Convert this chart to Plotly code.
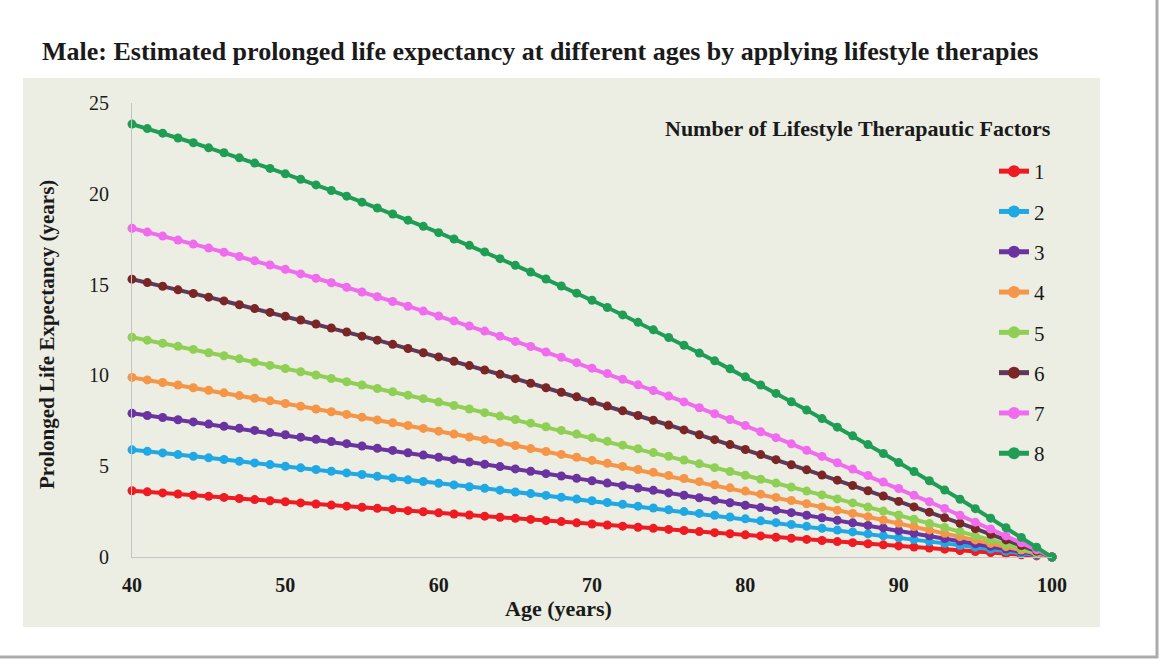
import plotly.graph_objects as go

ages = list(range(40, 101))

factor_names = ["1", "2", "3", "4", "5", "6", "7", "8"]

factor_1 = [3.65, 3.59, 3.53, 3.47, 3.40, 3.34, 3.28, 3.22, 3.16, 3.10,
            3.04, 2.98, 2.92, 2.86, 2.80, 2.74, 2.68, 2.61, 2.55, 2.49,
            2.43, 2.37, 2.31, 2.25, 2.19, 2.13, 2.07, 2.01, 1.95, 1.88,
            1.82, 1.76, 1.70, 1.64, 1.58, 1.52, 1.46, 1.40, 1.34, 1.28,
            1.22, 1.16, 1.09, 1.03, 0.97, 0.91, 0.85, 0.79, 0.73, 0.67,
            0.61, 0.55, 0.49, 0.43, 0.36, 0.30, 0.24, 0.18, 0.12, 0.06, 0.0]

factor_2 = [5.90, 5.82, 5.73, 5.64, 5.55, 5.46, 5.37, 5.27, 5.18, 5.09,
            5.00, 4.91, 4.82, 4.72, 4.63, 4.54, 4.44, 4.35, 4.25, 4.16,
            4.06, 3.97, 3.87, 3.78, 3.68, 3.58, 3.49, 3.39, 3.29, 3.19,
            3.10, 3.00, 2.90, 2.80, 2.70, 2.60, 2.50, 2.40, 2.30, 2.20,
            2.10, 1.99, 1.89, 1.79, 1.69, 1.58, 1.48, 1.38, 1.27, 1.17,
            1.06, 0.96, 0.85, 0.75, 0.64, 0.54, 0.43, 0.32, 0.22, 0.11, 0.0]

factor_3 = [7.91, 7.79, 7.68, 7.56, 7.44, 7.32, 7.20, 7.09, 6.97, 6.85,
            6.73, 6.60, 6.48, 6.36, 6.24, 6.11, 5.99, 5.87, 5.74, 5.61,
            5.49, 5.36, 5.23, 5.11, 4.98, 4.85, 4.72, 4.59, 4.46, 4.33,
            4.20, 4.07, 3.93, 3.80, 3.67, 3.53, 3.40, 3.26, 3.13, 2.99,
            2.85, 2.72, 2.58, 2.44, 2.30, 2.16, 2.02, 1.88, 1.74, 1.60,
            1.45, 1.31, 1.17, 1.02, 0.88, 0.73, 0.59, 0.44, 0.30, 0.15, 0.0]

factor_4 = [9.89, 9.75, 9.61, 9.47, 9.32, 9.18, 9.04, 8.89, 8.74, 8.60,
            8.45, 8.30, 8.15, 8.00, 7.85, 7.70, 7.55, 7.39, 7.24, 7.08,
            6.93, 6.77, 6.61, 6.46, 6.30, 6.14, 5.97, 5.81, 5.65, 5.49,
            5.32, 5.16, 4.99, 4.82, 4.66, 4.49, 4.32, 4.15, 3.98, 3.81,
            3.63, 3.46, 3.28, 3.11, 2.93, 2.76, 2.58, 2.40, 2.22, 2.04,
            1.86, 1.68, 1.49, 1.31, 1.12, 0.94, 0.75, 0.57, 0.38, 0.19, 0.0]

factor_5 = [12.10, 11.94, 11.77, 11.60, 11.43, 11.25, 11.08, 10.91, 10.73, 10.55,
            10.38, 10.20, 10.02, 9.83, 9.65, 9.47, 9.28, 9.10, 8.91, 8.72,
            8.53, 8.34, 8.15, 7.95, 7.76, 7.57, 7.37, 7.17, 6.97, 6.77,
            6.57, 6.37, 6.16, 5.96, 5.75, 5.55, 5.34, 5.13, 4.92, 4.71,
            4.50, 4.28, 4.07, 3.85, 3.63, 3.42, 3.20, 2.98, 2.75, 2.53,
            2.31, 2.08, 1.85, 1.63, 1.40, 1.17, 0.94, 0.70, 0.47, 0.24, 0.0]

factor_6 = [15.30, 15.11, 14.91, 14.71, 14.51, 14.31, 14.10, 13.89, 13.68, 13.47,
            13.26, 13.05, 12.83, 12.61, 12.39, 12.16, 11.94, 11.71, 11.48, 11.25,
            11.02, 10.78, 10.54, 10.30, 10.06, 9.82, 9.57, 9.32, 9.07, 8.82,
            8.57, 8.31, 8.05, 7.79, 7.53, 7.27, 7.00, 6.73, 6.46, 6.19,
            5.92, 5.64, 5.36, 5.08, 4.80, 4.51, 4.23, 3.94, 3.65, 3.36,
            3.06, 2.76, 2.47, 2.16, 1.86, 1.56, 1.25, 0.94, 0.63, 0.32, 0.0]

factor_7 = [18.10, 17.89, 17.67, 17.45, 17.23, 17.01, 16.78, 16.55, 16.31, 16.08,
            15.84, 15.59, 15.35, 15.10, 14.85, 14.59, 14.33, 14.07, 13.81, 13.54,
            13.27, 13.00, 12.72, 12.44, 12.16, 11.87, 11.59, 11.29, 11.00, 10.70,
            10.40, 10.10, 9.79, 9.48, 9.17, 8.86, 8.54, 8.22, 7.89, 7.57,
            7.24, 6.90, 6.57, 6.23, 5.88, 5.54, 5.19, 4.84, 4.49, 4.13,
            3.77, 3.40, 3.04, 2.67, 2.30, 1.92, 1.54, 1.16, 0.78, 0.39, 0.0]

factor_8 = [23.84, 23.59, 23.34, 23.07, 22.81, 22.53, 22.26, 21.98, 21.69, 21.40,
            21.10, 20.80, 20.49, 20.18, 19.87, 19.54, 19.22, 18.89, 18.55, 18.21,
            17.86, 17.51, 17.16, 16.80, 16.43, 16.06, 15.69, 15.31, 14.92, 14.53,
            14.14, 13.74, 13.33, 12.92, 12.51, 12.09, 11.66, 11.23, 10.80, 10.36,
            9.92, 9.47, 9.01, 8.55, 8.09, 7.62, 7.15, 6.67, 6.19, 5.70,
            5.20, 4.71, 4.20, 3.69, 3.18, 2.66, 2.14, 1.61, 1.08, 0.54, 0.0]

series_values = [factor_1, factor_2, factor_3, factor_4,
                 factor_5, factor_6, factor_7, factor_8]

x_ticks = [40, 50, 60, 70, 80, 90, 100]
y_ticks = [0, 5, 10, 15, 20, 25]

line_colors = ["#ee1c22", "#1fa8e4", "#6a33a0", "#f49548",
               "#90cf55", "#5f3a58", "#f06cee", "#1f9d55"]
marker_colors = ["#ee1c22", "#1fa8e4", "#6a33a0", "#f49548",
                 "#90cf55", "#7a2626", "#f06cee", "#1f9d55"]

SERIF = "Liberation Serif, Times New Roman, serif"
TXT = "#1a1a1a"

# pixel geometry of the plot area
L, R, T, B = 132, 1052, 103, 557
W, H = R - L, B - T


def px(x):
    return (x - L) / W


def py(y):
    return (B - y) / H


fig = go.Figure()
for name, vals, lc, mc in zip(factor_names, series_values, line_colors, marker_colors):
    fig.add_trace(go.Scatter(
        x=ages, y=vals, name=name, mode="lines+markers",
        line=dict(color=lc, width=4),
        marker=dict(color=mc, size=9),
        cliponaxis=False, legendgroup=name,
    ))

shapes = [
    dict(type="rect", xref="paper", yref="paper", layer="below",
         x0=px(23), x1=px(1100), y0=py(627), y1=py(78),
         fillcolor="#edeee3", line=dict(width=0)),
    dict(type="line", xref="paper", yref="paper",
         x0=px(1157), x1=px(1157), y0=py(-5), y1=py(658),
         line=dict(color="#ababab", width=3)),
    dict(type="line", xref="paper", yref="paper",
         x0=px(-5), x1=px(1158), y0=py(657), y1=py(657),
         line=dict(color="#ababab", width=3)),
]

annotations = [
    dict(text="<b>Male: Estimated prolonged life expectancy at different ages by applying lifestyle therapies</b>",
         xref="paper", yref="paper", x=px(40), y=py(52), xanchor="left", yanchor="middle",
         showarrow=False, font=dict(family=SERIF, size=26, color=TXT)),
    dict(text="<b>Number of Lifestyle Therapautic Factors</b>",
         xref="paper", yref="paper", x=px(1053), y=py(128), xanchor="right", yanchor="middle",
         showarrow=False, font=dict(family=SERIF, size=22, color=TXT)),
    dict(text="<b>Age (years)</b>",
         xref="paper", yref="paper", x=px(558), y=py(608), xanchor="center", yanchor="middle",
         showarrow=False, font=dict(family=SERIF, size=22, color=TXT)),
    dict(text="<b>Prolonged Life Expectancy (years)</b>", textangle=-90,
         xref="paper", yref="paper", x=px(47), y=py(335), xanchor="center", yanchor="middle",
         showarrow=False, font=dict(family=SERIF, size=21, color=TXT)),
]

fig.update_layout(
    width=1170, height=667,
    margin=dict(l=L, r=1170 - R, t=T, b=667 - B, pad=0),
    paper_bgcolor="white", plot_bgcolor="rgba(0,0,0,0)",
    showlegend=True,
    legend=dict(x=px(994), y=py(151), xanchor="left", yanchor="top",
                traceorder="grouped", tracegroupgap=10,
                bgcolor="rgba(0,0,0,0)", font=dict(family=SERIF, size=21, color=TXT),
                itemsizing="constant"),
    shapes=shapes, annotations=annotations,
    xaxis=dict(range=[40, 100], tickvals=x_ticks, ticktext=[f"<b>{v}</b>" for v in x_ticks],
               showgrid=False, zeroline=False, showline=True, linecolor="#c4c4c4", linewidth=1,
               ticks="", ticklabelstandoff=10,
               tickfont=dict(family=SERIF, size=20, color=TXT)),
    yaxis=dict(range=[0, 25], tickvals=y_ticks, showgrid=False, zeroline=False,
               showline=True, linecolor="#c4c4c4", linewidth=1,
               ticks="", ticklabelstandoff=18,
               tickfont=dict(family=SERIF, size=20, color=TXT)),
)

fig.write_html("out.html")
